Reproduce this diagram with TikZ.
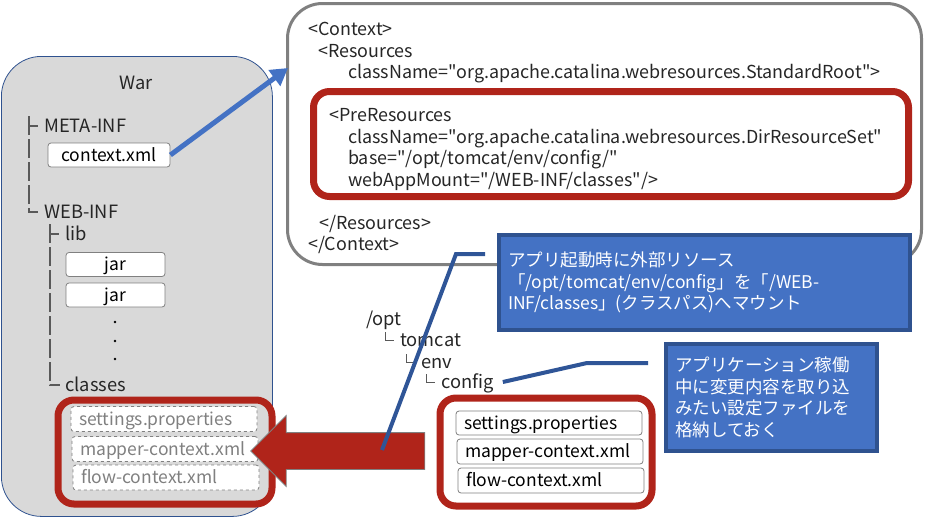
\documentclass[tikz,border=0pt]{standalone}
\usepackage{fontspec}
\newfontfamily\jpfamily{Noto Sans CJK JP}
\definecolor{warfill}{RGB}{217, 217, 217}
\definecolor{warline}{RGB}{47, 82, 143}
\definecolor{brick}{RGB}{176, 36, 26}
\definecolor{notefill}{RGB}{68, 114, 196}
\definecolor{noteline}{RGB}{47, 82, 143}
\definecolor{linkblue}{RGB}{47, 85, 151}
\definecolor{codegray}{RGB}{128, 128, 128}
\definecolor{treegray}{RGB}{89, 89, 89}
\usetikzlibrary{shapes.arrows, arrows.meta, calc}
\newcommand{\jpfont}{\jpfamily\fontsize{17.5}{21.5}\selectfont}
\newcommand{\codefont}{\jpfamily\fontsize{17.9}{21.5}\selectfont}
\newcommand{\treefont}{\jpfamily\fontsize{18.3}{21.5}\selectfont}

\begin{document}
\begin{tikzpicture}[x=1pt, y=-1pt,
  txt/.style={inner sep=0, font=\treefont, text height=13.2, text depth=0, anchor=west, text=black!85},
  treeline/.style={treegray, line width=1.2},
  filebox/.style={draw=codegray, fill=white, rounded corners=3, line width=0.8, minimum height=24, inner ysep=0, font=\jpfont, text height=12.8, text depth=0},
  listfile/.style={filebox, text width=170, inner xsep=8, align=left},
  redframe/.style={draw=brick, line width=7, rounded corners=16},
  note/.style={draw=noteline, fill=notefill, line width=4, text=white, font=\jpfont, align=left, inner xsep=9},
  link/.style={linkblue, line width=4}]
  \useasboundingbox (0,0) rectangle (926,517);

  % War archive
  \node[draw=warline, fill=warfill, line width=0.8, rounded corners=40, anchor=north west, minimum width=271, minimum height=460] (war) at (1,56) {};
  \node[txt, anchor=center] (wartitle) at (136,83) {War};

  \node[txt] (meta) at (44,126) {META-INF};
  \node[filebox, minimum width=122] (ctxfile) at (109,155) {context.xml};
  \node[txt] (webinf) at (44,212) {WEB-INF};
  \node[txt] (lib) at (65,234) {lib};
  \node[filebox, minimum width=99] (jar1) at (115.5,264.5) {jar};
  \node[filebox, minimum width=99] (jar2) at (115.5,295) {jar};
  \foreach \y in {322, 341, 359}
    \fill (115,\y) circle (1.4);
  \node[txt] (classes) at (65,385) {classes};

  % tree lines
  \draw[treeline, dash pattern=on 19pt off 4pt] ([shift={(-15,-10)}]meta.west) -- ([xshift=-15]webinf.west) -- ([xshift=-6]webinf.west);
  \draw[treeline] ([xshift=-15]meta.west) -- ([xshift=-6]meta.west);
  \draw[treeline, dash pattern=on 19pt off 4pt] ([shift={(-15,-10)}]lib.west) -- ([xshift=-15]classes.west) -- ([xshift=-5]classes.west);
  \draw[treeline] ([xshift=-15]lib.west) -- ([xshift=-6]lib.west);

  % classes inside the war
  \node[redframe, minimum width=214, minimum height=104] (clsbox) at (165,452) {};
  \node[listfile, dashed, text=codegray, minimum height=25] (lsettings) at (164,419) {settings.properties};
  \node[listfile, dashed, text=codegray, minimum height=25] (lmapper) at (165,449) {mapper-context.xml};
  \node[listfile, dashed, text=codegray, minimum height=25] (lflow) at (166,477.5) {flow-context.xml};

  % context.xml contents
  \node[draw=codegray, line width=3, rounded corners=35, minimum width=634, minimum height=261] (codebox) at (604.5,134) {};
  \node[inner sep=0, font=\codefont, align=left, anchor=north west, text=black!85] (code) at (308,22.2) {<Context>\\
    \hspace*{10pt}<Resources\\
    \hspace*{40pt}className="org.apache.catalina.webresources.StandardRoot">\\[21.5pt]
    \hspace*{21pt}<PreResources\\
    \hspace*{40pt}className="org.apache.catalina.webresources.DirResourceSet"\\
    \hspace*{40pt}base="/opt/tomcat/env/config/"\\
    \hspace*{40pt}webAppMount="/WEB-INF/classes"/>\\[21.5pt]
    \hspace*{11pt}</Resources>\\
    </Context>};
  \node[redframe, minimum width=595, minimum height=105] (prebox) at (611,144) {};

  % external directory
  \node[txt] (optdir) at (366,319) {/opt};
  \node[txt] (tomcat) at (400,340) {tomcat};
  \node[txt] (env) at (421,362) {env};
  \node[txt] (config) at (441,382) {config};
  \foreach \d in {tomcat, env, config}
    \draw[treeline, line width=1] ([shift={(-15,-8)}]\d.west) |- ([xshift=-6]\d.west);

  \node[redframe, fill=white, minimum width=212, minimum height=108] (cfgbox) at (546,452) {};
  \node[listfile] (rsettings) at (549,423) {settings.properties};
  \node[listfile, minimum height=25] (rmapper) at (550,451.5) {mapper-context.xml};
  \node[listfile, minimum height=25] (rflow) at (551,480.5) {flow-context.xml};

  % mount arrow
  \node[single arrow, shape border rotate=180, fill=brick, draw=codegray, line width=0.8, single arrow head extend=17, inner xsep=0, inner ysep=18, minimum height=174, minimum width=70] (mount) at (347,451) {};

  % context.xml -> contents
  \coordinate (ctxin) at (288,68);
  \draw[notefill, line width=5, -{Triangle[length=17, width=19]}] (ctxfile.east) -- (ctxin);

  % callouts
  \node[note, text width=393, minimum height=95] (note1) at (704.5,282.5) {アプリ起動時に外部リソース\\「/opt/tomcat/env/config」を「/WEB-\\INF/classes」(クラスパス)へマウント};
  \node[note, text width=193, minimum height=107] (note2) at (771.5,397.5) {アプリケーション稼働\\中に変更内容を取り込\\みたい設定ファイルを\\格納しておく};

  \coordinate (c1a) at (382,450);
  \coordinate (c1b) at (456,254);
  \coordinate (c1c) at ($(note1.north west)+(-12,21)$);
  \draw[link] (c1a) -- (c1b) -- (c1c);
  \coordinate (c2b) at (587,363);
  \coordinate (c2c) at ($(note2.north west)+(-16,21)$);
  \draw[link] ([xshift=9]config.east) -- (c2b) -- (c2c);
\end{tikzpicture}
\end{document}
